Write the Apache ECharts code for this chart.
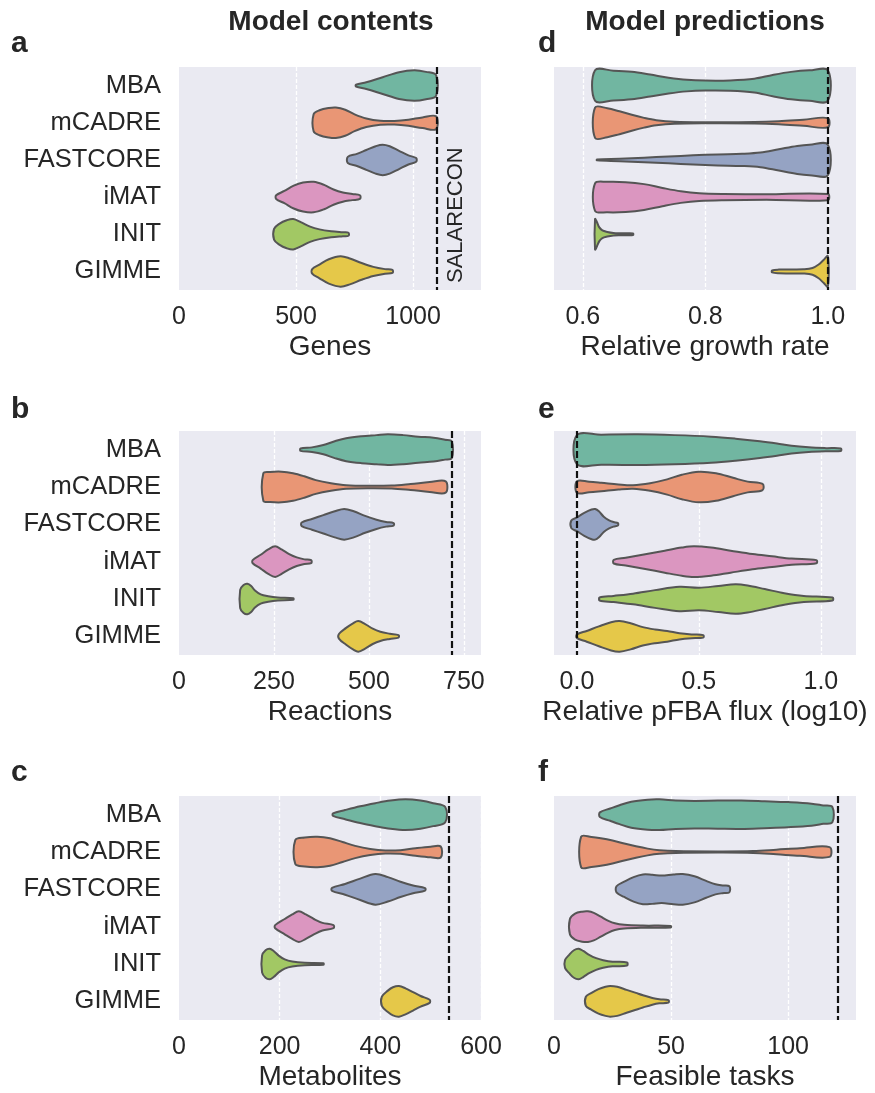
<!DOCTYPE html>
<html>
<head>
<meta charset="utf-8">
<title>Model contents and model predictions</title>
<script src="https://cdn.jsdelivr.net/npm/echarts@6/dist/echarts.min.js"></script>
<style>
  html, body { margin: 0; background: #fff; }
  #chart { width: 875px; height: 1093px; }
</style>
</head>
<body>
<div id="chart"></div>
<script>
const methods = ['MBA', 'mCADRE', 'FASTCORE', 'iMAT', 'INIT', 'GIMME']
const colors = ['#71b6a1', '#e99675', '#95a3c3', '#db96c0', '#a2c864', '#e5c849']

// violin outlines, one per method: [value, relative half-width]
const genes = [
  [[756, 0.06], [800, 0.22], [870, 0.55], [940, 0.88], [1005, 1.0], [1055, 0.9], [1098, 0.68]],
  [[575, 0.56], [600, 0.82], [640, 0.97], [670, 1.0], [710, 0.85], [750, 0.55], [800, 0.28], [860, 0.13], [920, 0.12], [980, 0.2], [1040, 0.35], [1098, 0.42]],
  [[721, 0.2], [760, 0.4], [800, 0.65], [840, 0.9], [870, 1.0], [900, 0.9], [940, 0.6], [980, 0.3], [1013, 0.12]],
  [[415, 0.12], [450, 0.4], [490, 0.75], [530, 0.95], [575, 1.0], [620, 0.8], [660, 0.5], [700, 0.3], [740, 0.2], [773, 0.12]],
  [[406, 0.35], [430, 0.7], [460, 0.92], [488, 1.0], [520, 0.8], [560, 0.5], [600, 0.32], [650, 0.2], [700, 0.13], [724, 0.1]],
  [[569, 0.15], [600, 0.45], [640, 0.8], [690, 1.0], [730, 0.85], [780, 0.55], [830, 0.3], [880, 0.15], [912, 0.1]]
]
const reactions = [
  [[320, 0.08], [350, 0.15], [380, 0.3], [410, 0.55], [440, 0.75], [480, 0.88], [520, 0.95], [550, 1.0], [590, 0.95], [630, 0.85], [670, 0.78], [700, 0.65], [718, 0.55]],
  [[222, 0.9], [240, 0.98], [270, 1.0], [300, 0.9], [330, 0.7], [360, 0.45], [400, 0.25], [440, 0.12], [500, 0.08], [560, 0.1], [610, 0.2], [660, 0.32], [702, 0.37]],
  [[323, 0.12], [350, 0.35], [380, 0.6], [410, 0.85], [435, 1.0], [460, 0.85], [490, 0.55], [520, 0.3], [545, 0.15], [565, 0.08]],
  [[194, 0.1], [215, 0.45], [235, 0.8], [253, 1.0], [270, 0.8], [290, 0.5], [310, 0.28], [330, 0.15], [348, 0.1]],
  [[161, 0.6], [170, 0.92], [180, 1.0], [190, 0.85], [200, 0.55], [215, 0.3], [235, 0.18], [260, 0.1], [301, 0.05]],
  [[421, 0.15], [440, 0.55], [458, 0.85], [472, 1.0], [490, 0.8], [510, 0.5], [530, 0.3], [555, 0.17], [578, 0.08]]
]
const metabolites = [
  [[306, 0.08], [330, 0.3], [360, 0.55], [390, 0.75], [420, 0.92], [450, 1.0], [480, 0.92], [505, 0.75], [529, 0.5]],
  [[231, 0.78], [250, 0.95], [275, 1.0], [300, 0.9], [325, 0.65], [350, 0.4], [380, 0.2], [410, 0.1], [440, 0.12], [470, 0.25], [500, 0.35], [520, 0.36]],
  [[304, 0.1], [330, 0.35], [360, 0.7], [390, 1.0], [415, 0.8], [440, 0.5], [465, 0.25], [489, 0.08]],
  [[191, 0.1], [210, 0.5], [225, 0.8], [238, 1.0], [252, 0.8], [268, 0.5], [285, 0.25], [307, 0.1]],
  [[165, 0.55], [172, 0.9], [180, 1.0], [188, 0.85], [198, 0.55], [210, 0.3], [225, 0.16], [250, 0.08], [287, 0.05]],
  [[403, 0.3], [415, 0.7], [425, 0.92], [437, 1.0], [450, 0.85], [465, 0.6], [480, 0.35], [498, 0.1]]
]
const growth = [
  [[0.62, 1.0], [0.65, 0.98], [0.68, 0.9], [0.71, 0.72], [0.74, 0.52], [0.77, 0.38], [0.80, 0.33], [0.84, 0.34], [0.88, 0.45], [0.91, 0.7], [0.94, 0.9], [0.97, 1.0], [1.0, 1.0]],
  [[0.62, 1.0], [0.64, 0.95], [0.66, 0.75], [0.68, 0.52], [0.70, 0.32], [0.72, 0.17], [0.75, 0.07], [0.80, 0.04], [0.88, 0.05], [0.92, 0.1], [0.96, 0.2], [1.0, 0.3]],
  [[0.623, 0.03], [0.66, 0.08], [0.70, 0.15], [0.74, 0.22], [0.78, 0.3], [0.82, 0.36], [0.86, 0.4], [0.89, 0.48], [0.92, 0.7], [0.95, 0.92], [0.97, 1.0], [1.0, 1.0]],
  [[0.62, 0.9], [0.64, 1.0], [0.67, 0.98], [0.70, 0.85], [0.73, 0.6], [0.76, 0.38], [0.79, 0.25], [0.83, 0.2], [0.9, 0.18], [1.0, 0.2]],
  [[0.62, 1.0], [0.623, 0.8], [0.627, 0.45], [0.632, 0.25], [0.64, 0.15], [0.65, 0.08], [0.66, 0.06], [0.67, 0.06], [0.682, 0.05]],
  [[0.909, 0.06], [0.92, 0.12], [0.94, 0.13], [0.96, 0.14], [0.975, 0.22], [0.985, 0.45], [0.993, 0.75], [1.0, 1.0]]
]
const flux = [
  [[0.0, 0.95], [0.1, 0.98], [0.25, 1.0], [0.4, 0.95], [0.55, 0.85], [0.65, 0.72], [0.75, 0.55], [0.82, 0.4], [0.88, 0.25], [0.95, 0.15], [1.02, 0.1], [1.082, 0.08]],
  [[0.0, 0.38], [0.05, 0.35], [0.1, 0.28], [0.17, 0.17], [0.23, 0.12], [0.3, 0.25], [0.37, 0.5], [0.43, 0.8], [0.5, 1.0], [0.57, 0.9], [0.64, 0.6], [0.7, 0.35], [0.761, 0.2]],
  [[-0.023, 0.25], [0.0, 0.45], [0.03, 0.75], [0.06, 0.97], [0.075, 1.0], [0.09, 0.85], [0.11, 0.5], [0.13, 0.28], [0.15, 0.15], [0.168, 0.08]],
  [[0.151, 0.12], [0.2, 0.25], [0.28, 0.48], [0.36, 0.72], [0.43, 0.92], [0.48, 1.0], [0.55, 0.92], [0.63, 0.72], [0.72, 0.5], [0.8, 0.35], [0.88, 0.2], [0.982, 0.1]],
  [[0.093, 0.1], [0.15, 0.2], [0.23, 0.35], [0.32, 0.58], [0.42, 0.8], [0.5, 0.74], [0.58, 0.85], [0.65, 0.96], [0.7, 0.88], [0.77, 0.65], [0.85, 0.38], [0.93, 0.2], [1.048, 0.1]],
  [[0.0, 0.12], [0.04, 0.35], [0.09, 0.65], [0.14, 0.92], [0.175, 1.0], [0.22, 0.85], [0.27, 0.6], [0.32, 0.45], [0.37, 0.35], [0.42, 0.2], [0.47, 0.12], [0.518, 0.08]]
]
const tasks = [
  [[19.6, 0.15], [24, 0.4], [28, 0.62], [33, 0.85], [40, 0.98], [45, 1.0], [52, 0.93], [60, 0.9], [70, 0.92], [80, 0.93], [90, 0.88], [100, 0.82], [110, 0.72], [115, 0.6], [118.9, 0.5]],
  [[11.6, 1.0], [16, 0.98], [20, 0.9], [25, 0.75], [30, 0.55], [35, 0.37], [40, 0.22], [45, 0.12], [52, 0.06], [70, 0.04], [85, 0.06], [95, 0.15], [105, 0.25], [117.7, 0.32]],
  [[26.7, 0.2], [30, 0.5], [34, 0.8], [38, 0.97], [42, 0.95], [46, 0.9], [51, 0.97], [55, 1.0], [60, 0.85], [65, 0.55], [69, 0.33], [72, 0.25], [74.9, 0.2]],
  [[6.8, 0.5], [9, 0.85], [12, 0.98], [14.5, 1.0], [17, 0.9], [20, 0.65], [23, 0.4], [26, 0.22], [30, 0.12], [38, 0.07], [49.9, 0.05]],
  [[4.7, 0.25], [6.5, 0.6], [8.5, 0.9], [10.5, 1.0], [12.5, 0.85], [15, 0.6], [18, 0.38], [21, 0.25], [25, 0.15], [31.2, 0.1]],
  [[13.6, 0.3], [16, 0.55], [19, 0.8], [22, 0.95], [24, 1.0], [27, 0.95], [31, 0.75], [35, 0.55], [38, 0.4], [42, 0.22], [45, 0.13], [48.9, 0.08]]
]

// dashed reference lines (SALARECON model / baseline)
const refGenes = 1100
const refReactions = 718
const refMetabolites = 535
const refGrowth = 1.0
const refFlux = 0.0
const refTasks = 121

// tick labels per panel
const ticksGenes = [0, 500, 1000]
const ticksReactions = [0, 250, 500, 750]
const ticksMetabolites = [0, 200, 400, 600]
const ticksGrowth = [0.6, 0.8, 1.0]
const ticksFlux = [0.0, 0.5, 1.0]
const ticksTasks = [0, 50, 100]

const FONT = '"Liberation Sans", Arial, Helvetica, sans-serif'
const TEXT = '#262626'
const colLeft = [179, 554]
const rowTop = [67, 431, 796]
const gridW = 302
const gridH = 223

const panels = [
  { letter: 'a', col: 0, row: 0, data: genes, ref: refGenes, min: 0, max: 1290, ticks: ticksGenes, name: 'Genes' },
  { letter: 'b', col: 0, row: 1, data: reactions, ref: refReactions, min: 0, max: 795, ticks: ticksReactions, name: 'Reactions' },
  { letter: 'c', col: 0, row: 2, data: metabolites, ref: refMetabolites, min: 0, max: 600, ticks: ticksMetabolites, name: 'Metabolites' },
  { letter: 'd', col: 1, row: 0, data: growth, ref: refGrowth, min: 0.553, max: 1.046, ticks: ticksGrowth, name: 'Relative growth rate', dec: 1 },
  { letter: 'e', col: 1, row: 1, data: flux, ref: refFlux, min: -0.094, max: 1.144, ticks: ticksFlux, name: 'Relative pFBA flux (log10)', dec: 1 },
  { letter: 'f', col: 1, row: 2, data: tasks, ref: refTasks, min: 0, max: 129, ticks: ticksTasks, name: 'Feasible tasks' }
]

// one polygon per violin, mirrored around the category centre
function violin(profiles) {
  return function (params, api) {
    const i = params.dataIndex
    const cat = api.value(1)
    const half = api.size([0, 1])[1] * 0.41
    const cy = api.coord([0, cat])[1]
    const prof = profiles[i]
    const upper = prof.map(p => [api.coord([p[0], cat])[0], cy - p[1] * half])
    const lower = prof.map(p => [api.coord([p[0], cat])[0], cy + p[1] * half]).reverse()
    return {
      type: 'polygon',
      shape: { points: upper.concat(lower), smooth: 0.35 },
      style: { fill: colors[i], stroke: '#555555', lineWidth: 2 }
    }
  }
}

const chart = echarts.init(document.getElementById('chart'))

const violinSeries = panels.map((p, k) => ({
  type: 'custom', xAxisIndex: k, yAxisIndex: k,
  renderItem: violin(p.data),
  encode: { x: 0, y: 1 },
  data: p.data.map((prof, i) => [prof[0][0], i])
}))
// markLine does not work on custom series here, so hang it on an empty line series
const refSeries = panels.map((p, k) => ({
  type: 'line', xAxisIndex: k, yAxisIndex: k, data: [], silent: true,
  markLine: {
    silent: true, symbol: 'none', label: { show: false },
    lineStyle: { color: '#111', width: 2.2, type: [7, 3] },
    data: [{ xAxis: p.ref }]
  }
}))

const option = {
  animation: false,
  textStyle: { fontFamily: FONT },
  grid: panels.map(p => ({
    left: colLeft[p.col], top: rowTop[p.row], width: gridW, height: gridH + (p.row ? 1 : 0),
    show: true, backgroundColor: '#eaeaf2', borderWidth: 0
  })),
  xAxis: panels.map((p, k) => ({
    type: 'value', gridIndex: k, min: p.min, max: p.max,
    name: p.name, nameLocation: 'middle', nameGap: 43,
    nameTextStyle: { fontSize: 28, color: TEXT, fontFamily: FONT },
    axisLine: { show: false },
    axisTick: { show: false, customValues: p.ticks.filter(t => t > p.min + 1e-9) },
    axisLabel: {
      fontSize: 25, color: TEXT, margin: 15, fontFamily: FONT,
      customValues: p.ticks,
      formatter: v => p.dec ? Number(v).toFixed(p.dec) : String(v)
    },
    splitLine: { show: true, lineStyle: { color: '#ffffff', width: 1.3, type: [4, 2] } }
  })),
  yAxis: panels.map((p, k) => ({
    type: 'category', gridIndex: k, data: methods, inverse: true,
    axisLine: { show: false }, axisTick: { show: false }, splitLine: { show: false },
    axisLabel: { show: p.col === 0, fontSize: 25.5, color: TEXT, margin: 18, fontFamily: FONT }
  })),
  series: violinSeries.concat(refSeries)
}
chart.setOption(option)

const lineX = chart.convertToPixel({ xAxisIndex: 0 }, refGenes)
chart.setOption({
  graphic: [
    { type: 'text', x: 331, y: 22.5, style: { text: 'Model contents', font: 'bold 28px ' + FONT, fill: TEXT, align: 'center', verticalAlign: 'middle' } },
    { type: 'text', x: 705, y: 22.5, style: { text: 'Model predictions', font: 'bold 28px ' + FONT, fill: TEXT, align: 'center', verticalAlign: 'middle' } },
    ...panels.map(p => ({
      type: 'text',
      x: p.col ? 538 : 11,
      y: [44, 410, 773][p.row],
      style: { text: p.letter, font: 'bold 30px ' + FONT, fill: TEXT, align: 'left', verticalAlign: 'middle' }
    })),
    {
      type: 'text', x: lineX + 19, y: rowTop[0] + gridH - 7, rotation: Math.PI / 2,
      style: { text: 'SALARECON', font: '22px ' + FONT, fill: TEXT, align: 'left', verticalAlign: 'middle' }
    }
  ]
})
</script>
</body>
</html>
